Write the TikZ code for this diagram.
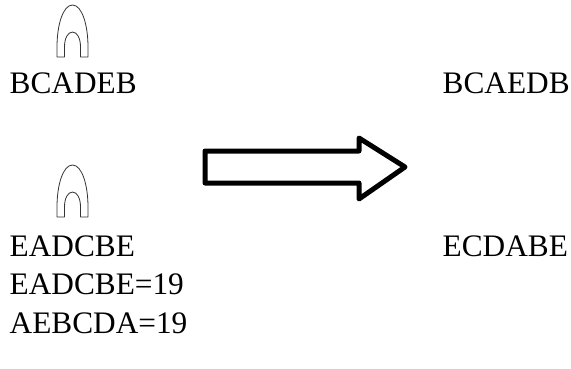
\documentclass[tikz,border=0pt]{standalone}
\usepackage{fontspec}
\setmainfont{Liberation Serif}
\begin{document}
\begin{tikzpicture}[x=1pt,y=-1pt,
  seq/.style={anchor=base west,inner sep=0pt,font=\fontsize{31.3}{36}\selectfont},
  archline/.style={draw=black!80,line width=0.8pt,line join=round},
  bigarrow/.style={draw=black,line width=5pt,line join=round,fill=white}]
  \useasboundingbox (0,0) rectangle (571,368);

  % arch marker, drawn above a sequence
  \newcommand{\archmark}[1]{%
    \begin{scope}[yshift=#1]
      \draw[archline] (57,57) -- (57,47)
        .. controls (57,25) and (63,5) .. (72.5,5)
        .. controls (82,5) and (88,25) .. (88,47)
        -- (88,57) -- (80.5,57) -- (80.5,47)
        .. controls (80.5,38) and (77,32) .. (72.5,32)
        .. controls (68,32) and (64.5,38) .. (64.5,47)
        -- (64.5,57) -- cycle;
    \end{scope}}
  \archmark{0pt}
  \archmark{-160pt}

  % left column
  \node[seq] (l1) at (9.5,93) {BCADEB};
  \node[seq] (l2) at (9.5,256) {EADCBE};
  \node[seq] (l3) at (9.5,294) {EADCBE=19};
  \node[seq] (l4) at (9.5,333) {AEBCDA=19};

  % right column
  \node[seq] (r1) at (442.5,93) {BCAEDB};
  \node[seq] (r2) at (442.5,256) {ECDABE};

  % block arrow
  \draw[bigarrow] (205,151) -- (359,151) -- (359,138) -- (405,167)
    -- (359,199) -- (359,183) -- (205,183) -- cycle;
\end{tikzpicture}
\end{document}
